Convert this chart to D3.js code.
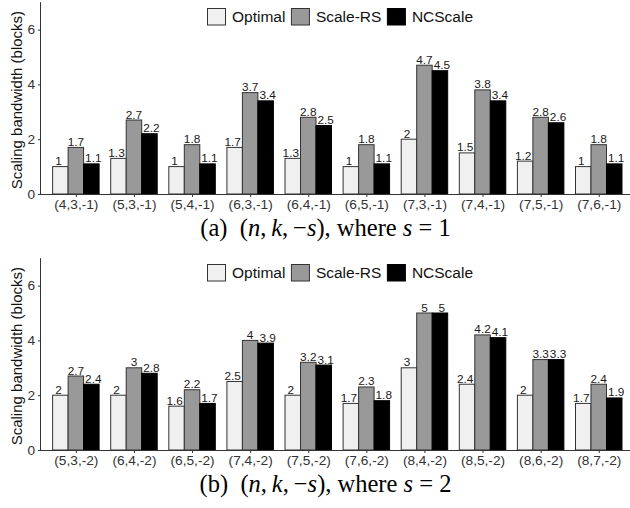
<!DOCTYPE html>
<html>
<head>
<meta charset="utf-8">
<title>Scaling bandwidth</title>
<script src="https://cdn.jsdelivr.net/npm/d3@7"></script>
<style>
  body { margin: 0; background: #fff; }
  svg { display: block; font-family: "Liberation Sans", Arial, sans-serif; }
</style>
</head>
<body>
<svg id="chart" width="630" height="508"></svg>
<script>
// series names and colours
const seriesNames = ["Optimal", "Scale-RS", "NCScale"];
const seriesFill = ["#f0f0f0", "#999999", "#000000"];

// panel (a): s = 1
const catsA = ["(4,3,-1)", "(5,3,-1)", "(5,4,-1)", "(6,3,-1)", "(6,4,-1)", "(6,5,-1)", "(7,3,-1)", "(7,4,-1)", "(7,5,-1)", "(7,6,-1)"];
const optimalA = [1, 1.3, 1, 1.7, 1.3, 1, 2, 1.5, 1.2, 1];
const scaleRsA = [1.7, 2.7, 1.8, 3.7, 2.8, 1.8, 4.7, 3.8, 2.8, 1.8];
const ncScaleA = [1.1, 2.2, 1.1, 3.4, 2.5, 1.1, 4.5, 3.4, 2.6, 1.1];

// panel (b): s = 2
const catsB = ["(5,3,-2)", "(6,4,-2)", "(6,5,-2)", "(7,4,-2)", "(7,5,-2)", "(7,6,-2)", "(8,4,-2)", "(8,5,-2)", "(8,6,-2)", "(8,7,-2)"];
const optimalB = [2, 2, 1.6, 2.5, 2, 1.7, 3, 2.4, 2, 1.7];
const scaleRsB = [2.7, 3, 2.2, 4, 3.2, 2.3, 5, 4.2, 3.3, 2.4];
const ncScaleB = [2.4, 2.8, 1.7, 3.9, 3.1, 1.8, 5, 4.1, 3.3, 1.9];

const yTicks = [0, 2, 4, 6];

const svg = d3.select("#chart");

function drawPanel(offsetY, cats, series, label, sValue) {
    const g = svg.append("g").attr("transform", "translate(0," + offsetY + ")");

    const left = 41, right = 633.6, top = 2.2, bottom = 194;

    const x = d3.scalePoint().domain(cats).range([left, right]).padding(0.6);
    const y = d3.scaleLinear().domain([0, 7]).range([bottom, top]);
    const step = x.step();
    const barW = step * 0.8 / 3;

    // bars
    series.forEach((vals, si) => {
        g.selectAll(null)
            .data(vals)
            .enter()
            .append("rect")
            .attr("x", (d, i) => x(cats[i]) - 1.5 * barW + si * barW)
            .attr("y", d => y(d))
            .attr("width", barW)
            .attr("height", d => y(0) - y(d))
            .attr("fill", seriesFill[si])
            .attr("stroke", si === 2 ? "#000" : "#333")
            .attr("stroke-width", 1);

        // value labels (dodged a bit wider than bars)
        g.selectAll(null)
            .data(vals)
            .enter()
            .append("text")
            .attr("x", (d, i) => x(cats[i]) + (si - 1) * step * 0.3)
            .attr("y", d => y(d) - 1.5)
            .attr("text-anchor", "middle")
            .attr("font-size", "11.8px")
            .attr("fill", "#1a1a1a")
            .text(d => d);
    });

    // axes
    const xAxis = d3.axisBottom(x).tickSize(3).tickPadding(2);
    const gx = g.append("g").attr("transform", "translate(0," + bottom + ")").call(xAxis);
    gx.select(".domain").attr("d", "M" + left + ",0.5H" + right).attr("stroke", "#333");
    gx.selectAll(".tick line").attr("stroke", "#333");
    gx.selectAll(".tick text").attr("font-size", "13.7px").attr("fill", "#333")
        .attr("font-family", "Liberation Sans, Arial, sans-serif");

    const yAxis = d3.axisLeft(y).tickValues(yTicks).tickFormat(d3.format("d")).tickSize(3).tickPadding(3);
    const gy = g.append("g").attr("transform", "translate(" + left + ",0)").call(yAxis);
    gy.select(".domain").attr("d", "M-0.5," + top + "V" + bottom).attr("stroke", "#333");
    gy.selectAll(".tick line").attr("stroke", "#333");
    gy.selectAll(".tick text").attr("font-size", "13.7px").attr("fill", "#333")
        .attr("font-family", "Liberation Sans, Arial, sans-serif");

    g.append("text")
        .attr("transform", "translate(16," + ((top + bottom) / 2 + 2) + ") rotate(-90)")
        .attr("text-anchor", "middle")
        .attr("dominant-baseline", "central")
        .attr("font-size", "15px")
        .attr("fill", "#111")
        .text("Scaling bandwidth (blocks)");

    // legend
    let lx = 207.5;
    seriesNames.forEach((name, si) => {
        g.append("rect")
            .attr("x", lx).attr("y", 8.5)
            .attr("width", 18).attr("height", 16.5)
            .attr("fill", seriesFill[si])
            .attr("stroke", si === 2 ? "#000" : "#333");
        const t = g.append("text")
            .attr("x", lx + 24.5).attr("y", 22.3)
            .attr("font-size", "15.5px")
            .attr("fill", "#111")
            .text(name);
        lx += 24.5 + t.node().getComputedTextLength() + 6;
    });

    // caption
    const cap = g.append("text")
        .attr("x", 325.5).attr("y", 235.7)
        .attr("text-anchor", "middle")
        .attr("font-family", "Liberation Serif, Times New Roman, serif")
        .attr("font-size", "24.5px")
        .attr("fill", "#000");
    cap.append("tspan").text("(" + label + ")\u2002(");
    cap.append("tspan").attr("font-style", "italic").text("n");
    cap.append("tspan").text(",\u2009");
    cap.append("tspan").attr("font-style", "italic").text("k");
    cap.append("tspan").text(",\u2009\u2212");
    cap.append("tspan").attr("font-style", "italic").text("s");
    cap.append("tspan").text("), where ");
    cap.append("tspan").attr("font-style", "italic").text("s");
    cap.append("tspan").text(" = " + sValue);
}

drawPanel(0, catsA, [optimalA, scaleRsA, ncScaleA], "a", 1);
drawPanel(256, catsB, [optimalB, scaleRsB, ncScaleB], "b", 2);
</script>
</body>
</html>
